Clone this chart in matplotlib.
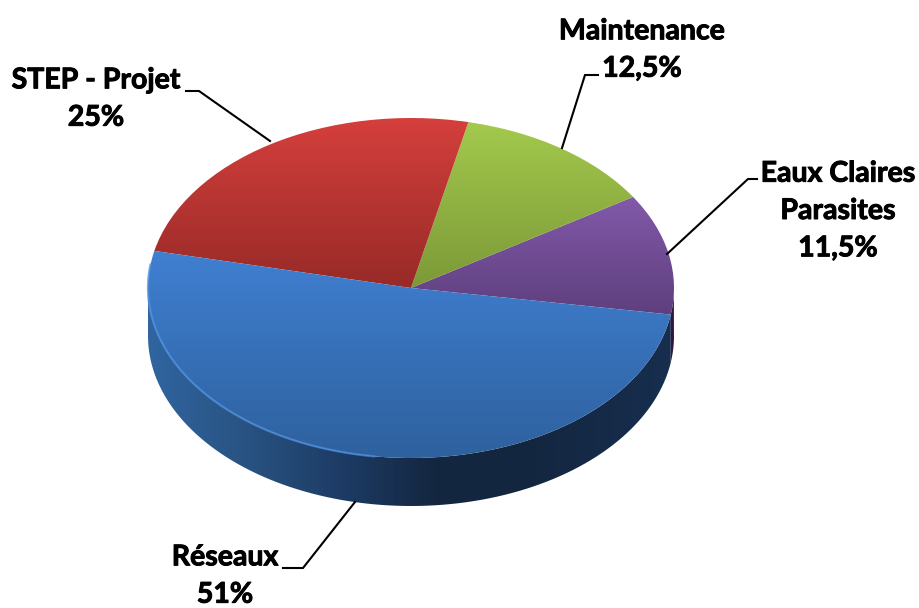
import numpy as np
import matplotlib
matplotlib.use('Agg')
import matplotlib.pyplot as plt
import matplotlib.patheffects as pe
from matplotlib.colors import LinearSegmentedColormap
from matplotlib.path import Path
from matplotlib.patches import PathPatch
from matplotlib.transforms import Affine2D

# slices, counter clockwise from the purple one
names = ['Eaux Claires\nParasites', 'Maintenance', 'STEP - Projet', 'Réseaux']
values = [11.5, 12.5, 25, 51]
value_labels = ['11,5%', '12,5%', '25%', '51%']
top_colors = ['#8259a9', '#a3c94d', '#d53f3c', '#407fd2']
bottom_colors = ['#5e3f7e', '#7c9937', '#972a27', '#2e619e']

CX, CY, RX, RY = 411, 288, 263, 170
DEPTH = 48
START = -9


def vertical_gradient(ax, patch, c_top, c_bottom, y0, y1):
    cmap = LinearSegmentedColormap.from_list('g', [c_top, c_bottom])
    grad = np.linspace(0, 1, 256).reshape(-1, 1)
    im = ax.imshow(grad, cmap=cmap, aspect='auto', extent=(100, 720, y1, y0), zorder=3)
    im.set_clip_path(patch)


def ring_points(a0, a1, n=200):
    t = np.radians(np.linspace(a0, a1, n))
    return CX + RX * np.cos(t), CY - RY * np.sin(t)


def side_patch(ax, a0, a1):
    x, y = ring_points(a0, a1)
    xy = np.r_[np.c_[x, y], np.c_[x[::-1], y[::-1] + DEPTH], [[x[0], y[0]]]]
    patch = PathPatch(Path(xy), fc='none', ec='none', transform=ax.transData)
    ax.add_patch(patch)
    return patch


fig = plt.figure(figsize=(9.2, 6.08), dpi=100)
ax = fig.add_axes([0, 0, 1, 1])

wedges, _ = ax.pie(values, startangle=START, counterclock=True)
ax.set_aspect('auto')
ax.set_xlim(0, 920)
ax.set_ylim(608, 0)
ax.axis('off')

squash = Affine2D().scale(RX, -RY).translate(CX, CY) + ax.transData

# side wall first
wall = LinearSegmentedColormap.from_list('wall', [
    (0.0, '#3065a0'), (0.2, '#28517f'), (0.38, '#1c3a63'),
    (0.55, '#14263f'), (0.7, '#13263f'), (1.0, '#172e4e')])
im = ax.imshow(np.linspace(0, 1, 512).reshape(1, -1), cmap=wall, aspect='auto',
               extent=(CX - RX, CX + RX, 620, 0), zorder=1)
im.set_clip_path(side_patch(ax, 180, 360 + START))
im = ax.imshow([[0, 0]], cmap=LinearSegmentedColormap.from_list('w2', ['#2a1a3d', '#2a1a3d']),
               aspect='auto', extent=(600, 700, 620, 0), zorder=1)
im.set_clip_path(side_patch(ax, 360 + START, 362))

# top face
for w, c0, c1 in zip(wedges, top_colors, bottom_colors):
    w.set_transform(squash)
    w.set_facecolor('none')
    w.set_edgecolor('none')
    w.set_zorder(2)
    theta = np.radians(np.linspace(w.theta1, w.theta2, 100))
    ys = np.r_[CY - RY * np.sin(theta), CY]
    vertical_gradient(ax, w, c0, c1, ys.min(), ys.max())

# light rim along the front of the blue slice
x, y = ring_points(172, 262, 120)
ax.plot(x, y, color='#4d8fdc', lw=1.6, alpha=0.75, zorder=4, solid_capstyle='round')

# leader lines: slice edge, elbow, label end
leaders_x = [(667, 748, 757), (562, 585, 598), (270, 199, 186), (355, 303, 283)]
leaders_y = [(254, 179, 179), (148, 75, 75), (141, 91, 91), (502, 568, 568)]
for lx, ly in zip(leaders_x, leaders_y):
    ax.plot(lx, ly, color='black', lw=1.5, zorder=5, solid_joinstyle='miter')

font = dict(family='Lato', weight='bold', fontsize=20.5, color='black', ha='center', va='center',
            linespacing=1.54, zorder=6,
            path_effects=[pe.withStroke(linewidth=0.7, foreground='black')])
label_x = [838, 642, 96, 225]
label_y = [211, 50, 99, 576]
for n, v, lx, ly in zip(names, value_labels, label_x, label_y):
    ax.text(lx, ly, n + '\n' + v, **font)

fig.savefig('out.png', dpi=100)
